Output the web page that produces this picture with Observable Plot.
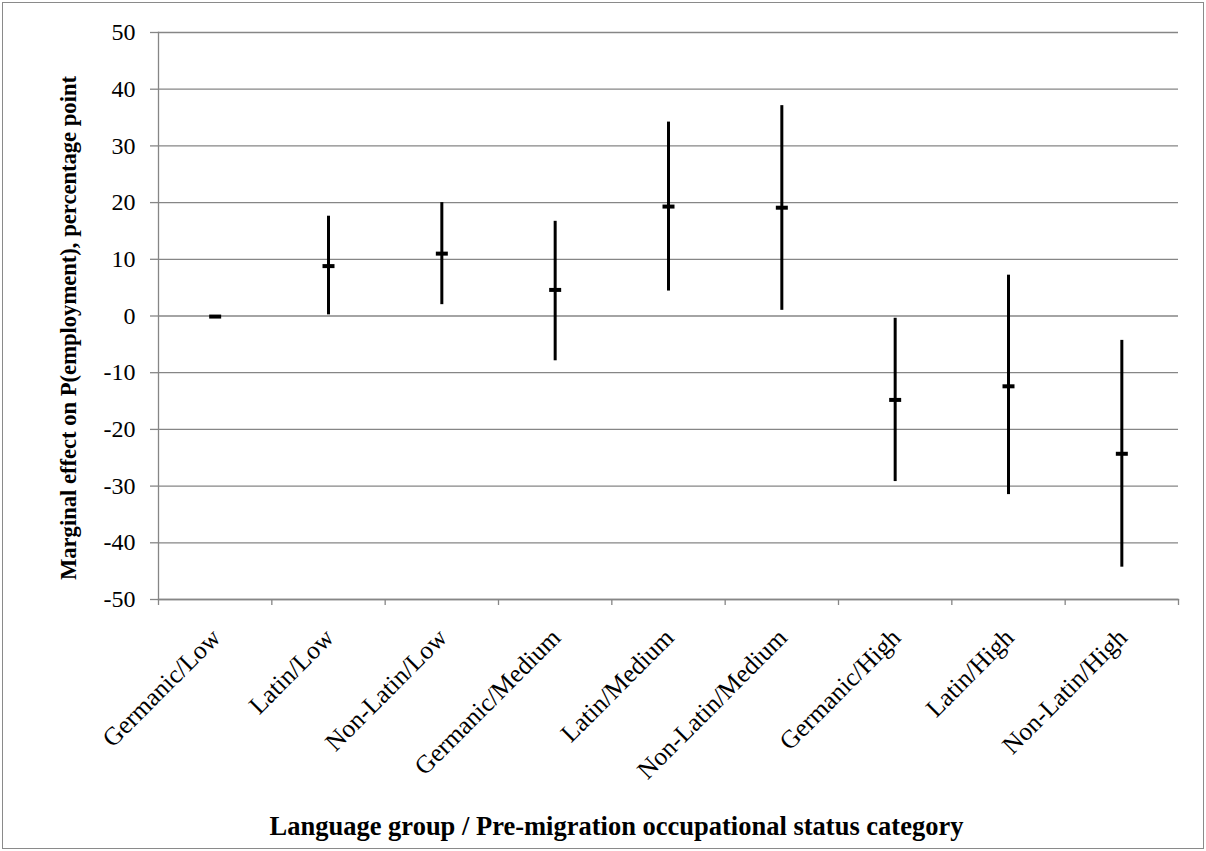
<!DOCTYPE html>
<html>
<head>
<meta charset="utf-8">
<script src="https://cdn.jsdelivr.net/npm/d3@7"></script>
<script src="https://cdn.jsdelivr.net/npm/@observablehq/plot@0.6"></script>
<style>
  html, body { margin: 0; padding: 0; background: #fff; }
  #wrap { position: relative; width: 1206px; height: 851px; overflow: hidden; }
  #border { position: absolute; left: 2px; top: 2px; width: 1200px; height: 845px; border: 1.5px solid #8a8a8a; pointer-events: none; }
</style>
</head>
<body>
<div id="wrap"><div id="border"></div></div>
<script>
// ---- data ----
const categories = ["Germanic/Low", "Latin/Low", "Non-Latin/Low", "Germanic/Medium", "Latin/Medium", "Non-Latin/Medium", "Germanic/High", "Latin/High", "Non-Latin/High"];
const estimate = [-0.1, 8.8, 11.0, 4.6, 19.3, 19.1, -14.8, -12.4, -24.3];
const lower    = [null, 0.2, 2.0, -7.9, 4.4, 1.0, -29.2, -31.5, -44.3];
const upper    = [null, 17.6, 20.0, 16.7, 34.2, 37.1, -0.4, 7.2, -4.3];
const yTicks = [-50, -40, -30, -20, -10, 0, 10, 20, 30, 40, 50];
const yLabel = "Marginal effect on P(employment), percentage point";
const xLabel = "Language group / Pre-migration occupational status category";

const rows = categories.map((c, i) => ({category: c, pos: i + 0.5, est: estimate[i], lo: lower[i], hi: upper[i]}));
const boundaries = d3.range(0, categories.length + 1);
const centers = rows.map(d => d.pos);

const dash = { draw(context) { context.rect(-6, -2, 12, 4); } };
const grid = "#868686";

const chart = Plot.plot({
  width: 1206,
  height: 851,
  marginLeft: 158,
  marginRight: 28,
  marginTop: 32,
  marginBottom: 252,
  style: { fontFamily: "'Liberation Serif', 'Times New Roman', serif", fontSize: "24px", color: "#000", background: "transparent", overflow: "visible" },
  x: { domain: [0, categories.length], axis: null },
  y: { domain: [-50, 50], axis: null },
  marks: [
    Plot.gridY(yTicks, { stroke: grid, strokeOpacity: 1, strokeWidth: 1.3 }),
    Plot.axisY(yTicks, { anchor: "left", tickSize: 8, tickPadding: 15, tickFormat: d => String(d), stroke: grid, strokeWidth: 1.3, label: null, fontSize: 24 }),
    Plot.axisX(boundaries, { anchor: "bottom", tickSize: 6, tickFormat: () => "", stroke: grid, strokeWidth: 1.3, label: null }),
    Plot.axisX(centers, { anchor: "bottom", tickSize: 0, tickPadding: 34, dx: 1, tickRotate: -45, tickFormat: d => categories[Math.floor(d)], label: null, fontSize: 25.5 }),
    Plot.frame({ anchor: "left", stroke: grid, strokeWidth: 1.3 }),
    Plot.frame({ anchor: "bottom", stroke: grid, strokeWidth: 1.3 }),
    Plot.ruleX(rows.filter(d => d.lo != null), { x: "pos", y1: "lo", y2: "hi", stroke: "#000", strokeWidth: 3 }),
    Plot.dot(rows, { x: "pos", y: "est", symbol: dash, fill: "#000", stroke: null }),
    Plot.text([yLabel], { frameAnchor: "left", textAnchor: "middle", lineAnchor: "middle", rotate: -90, dx: -90, dy: 12, fontWeight: "bold", fontSize: 22.6, fill: "#000" }),
    Plot.text([xLabel], { frameAnchor: "bottom", textAnchor: "middle", lineAnchor: "middle", dx: -52, dy: 227, fontWeight: "bold", fontSize: 26.5, fill: "#000" })
  ]
});
document.getElementById("wrap").prepend(chart);
</script>
</body>
</html>
